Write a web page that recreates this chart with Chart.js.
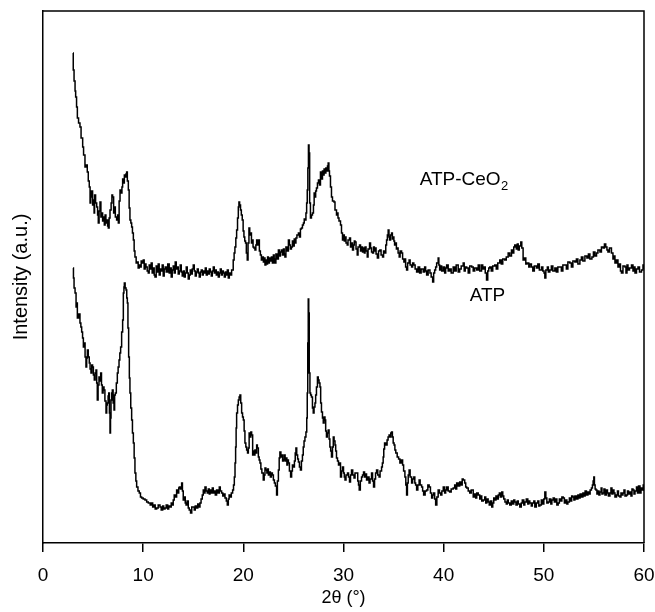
<!DOCTYPE html>
<html>
<head>
<meta charset="utf-8">
<title>XRD ATP / ATP-CeO2</title>
<script src="https://cdn.jsdelivr.net/npm/chart.js@4.4.1/dist/chart.umd.min.js"></script>
<style>
  html, body { margin: 0; padding: 0; background: #fff; }
  #wrap { width: 655px; height: 612px; position: relative; }
</style>
</head>
<body>
<div id="wrap"><canvas id="xrd"></canvas></div>
<script>
// [2theta, intensity (a.u.)]
const ceoPoints = [
  [3.00,490],[3.02,473],[3.1,462],[3.2,452],[3.26,446],[3.35,436],[3.43,425],[3.55,420],[3.69,416],[3.8,405],
  [3.96,396],[4.05,388],[4.19,376],[4.3,378],[4.42,371],[4.52,362],[4.62,356],[4.7,340],[4.76,346],[4.85,352],
  [4.95,338],[5.02,343],[5.1,330],[5.15,348],[5.25,340],[5.36,336],[5.45,328],[5.52,320],[5.6,332],[5.69,341],
  [5.78,326],[5.86,330],[5.95,322],[6.02,326],[6.12,318],[6.2,328],[6.28,320],[6.36,323],[6.45,317],[6.52,315],
  [6.6,325],[6.69,333],[6.8,340],[6.88,348],[6.95,346],[7.05,330],[7.12,336],[7.22,326],[7.35,323],[7.45,328],
  [7.52,320],[7.6,342],[7.69,353],[7.78,350],[7.88,356],[7.95,364],[8.02,360],[8.12,368],[8.19,366],[8.28,369],
  [8.35,371],[8.42,362],[8.52,353],[8.6,335],[8.68,323],[8.77,320],[8.85,316],[8.93,310],[9.02,303],[9.1,292],
  [9.18,286],[9.3,280],[9.4,281],[9.5,275],[9.6,278],[9.68,276],[9.8,282],[9.9,280],[10.01,283],[10.1,274],
  [10.2,279],[10.28,276],[10.4,272],[10.51,270],[10.6,278],[10.7,274],[10.8,280],[10.9,270],[11.0,275],[11.1,268],
  [11.18,266],[11.3,277],[11.4,271],[11.5,279],[11.6,268],[11.7,274],[11.8,272],[11.9,278],[12.0,267],[12.1,274],
  [12.2,276],[12.3,271],[12.45,279],[12.6,270],[12.7,275],[12.8,266],[12.9,273],[13.0,277],[13.1,270],[13.2,281],
  [13.3,274],[13.4,276],[13.5,269],[13.6,272],[13.7,278],[13.8,271],[13.9,267],[14.0,272],[14.1,266],[14.2,270],
  [14.3,276],[14.4,270],[14.5,264],[14.6,268],[14.7,273],[14.8,269],[14.9,274],[15.0,278],[15.1,272],[15.2,267],
  [15.3,271],[15.4,274],[15.5,270],[15.6,266],[15.7,271],[15.8,273],[15.9,268],[16.0,272],[16.1,270],[16.2,275],
  [16.3,268],[16.4,272],[16.5,269],[16.6,274],[16.7,271],[16.8,267],[16.9,272],[17.0,276],[17.1,270],[17.2,273],
  [17.3,268],[17.4,271],[17.5,266],[17.6,270],[17.7,274],[17.8,268],[17.9,272],[18.0,270],[18.1,266],[18.2,271],
  [18.3,268],[18.4,273],[18.5,265],[18.6,270],[18.7,268],[18.83,273],[18.99,283],[19.08,290],[19.16,296],[19.25,305],
  [19.33,313],[19.42,325],[19.5,336],[19.56,341],[19.63,338],[19.72,333],[19.8,328],[19.89,323],[19.98,312],[20.06,306],
  [20.14,302],[20.22,300],[20.3,290],[20.39,283],[20.47,300],[20.56,315],[20.64,308],[20.73,310],[20.81,300],[20.89,303],
  [20.97,296],[21.06,295],[21.16,293],[21.25,298],[21.33,303],[21.42,298],[21.5,303],[21.6,292],[21.7,288],[21.8,283],
  [21.9,286],[22.0,281],[22.08,285],[22.16,278],[22.25,283],[22.33,279],[22.42,286],[22.5,280],[22.6,285],[22.7,282],
  [22.8,286],[22.9,280],[23.0,288],[23.08,284],[23.15,280],[23.25,289],[23.35,284],[23.5,293],[23.6,287],[23.7,291],
  [23.8,293],[23.9,288],[24.0,294],[24.08,289],[24.15,286],[24.25,296],[24.35,292],[24.5,303],[24.6,298],[24.7,294],
  [24.8,296],[24.9,302],[25.0,297],[25.08,304],[25.15,300],[25.25,305],[25.35,308],[25.5,310],[25.6,306],[25.7,314],
  [25.8,315],[25.9,318],[26.0,320],[26.08,324],[26.15,323],[26.25,330],[26.32,340],[26.38,353],[26.44,375],[26.5,398],
  [26.56,390],[26.62,340],[26.7,325],[26.8,328],[26.9,330],[27.0,338],[27.07,350],[27.15,346],[27.22,352],[27.3,355],
  [27.4,360],[27.5,363],[27.6,358],[27.7,371],[27.8,364],[27.9,372],[27.98,368],[28.06,374],[28.15,370],[28.24,375],
  [28.32,372],[28.4,377],[28.47,380],[28.54,372],[28.6,367],[28.7,356],[28.8,346],[28.9,342],[29.05,341],[29.15,333],
  [29.3,328],[29.38,330],[29.45,325],[29.55,322],[29.7,318],[29.8,310],[29.9,303],[30.0,308],[30.08,302],[30.15,306],
  [30.25,300],[30.37,298],[30.45,303],[30.6,305],[30.7,296],[30.8,300],[30.9,293],[31.0,298],[31.08,302],[31.15,301],
  [31.25,294],[31.37,288],[31.45,296],[31.6,298],[31.7,292],[31.8,296],[31.9,291],[32.0,295],[32.08,290],[32.15,296],
  [32.25,292],[32.37,286],[32.45,294],[32.6,300],[32.7,295],[32.8,291],[32.9,290],[33.0,296],[33.08,292],[33.15,295],
  [33.25,289],[33.38,285],[33.5,292],[33.63,293],[33.75,288],[33.9,286],[34.0,292],[34.13,290],[34.22,298],[34.3,303],
  [34.38,308],[34.46,313],[34.54,306],[34.6,303],[34.7,308],[34.8,310],[34.88,304],[34.96,306],[35.03,302],[35.1,298],
  [35.2,300],[35.28,294],[35.36,295],[35.45,290],[35.56,286],[35.65,292],[35.8,290],[35.9,284],[36.03,281],[36.12,284],
  [36.2,276],[36.3,273],[36.4,280],[36.55,283],[36.65,278],[36.8,276],[36.9,280],[37.02,278],[37.15,274],[37.3,271],
  [37.45,276],[37.6,270],[37.75,274],[37.96,271],[38.1,276],[38.2,272],[38.3,268],[38.45,273],[38.63,270],[38.75,266],
  [38.9,261],[39.0,270],[39.1,273],[39.2,276],[39.3,280],[39.45,285],[39.52,278],[39.6,273],[39.7,277],[39.8,272],
  [39.96,276],[40.1,270],[40.2,275],[40.3,278],[40.45,272],[40.6,274],[40.75,270],[40.95,276],[41.1,272],[41.25,278],
  [41.45,271],[41.6,274],[41.75,277],[41.95,280],[42.05,272],[42.15,276],[42.3,275],[42.45,270],[42.6,277],[42.8,276],
  [42.95,272],[43.1,275],[43.3,273],[43.45,278],[43.6,272],[43.78,278],[43.9,274],[44.05,276],[44.15,270],[44.28,263],
  [44.4,272],[44.5,275],[44.6,276],[44.75,272],[44.9,277],[45.1,278],[45.25,274],[45.4,280],[45.6,283],[45.75,279],
  [45.9,284],[46.1,283],[46.25,286],[46.44,290],[46.6,287],[46.77,293],[46.9,290],[47.0,296],[47.1,298],[47.25,294],
  [47.35,299],[47.44,293],[47.55,297],[47.7,301],[47.8,295],[47.93,283],[48.05,285],[48.2,279],[48.33,280],[48.5,276],
  [48.6,279],[48.76,276],[48.9,272],[49.05,277],[49.26,275],[49.4,279],[49.55,273],[49.77,276],[49.9,272],[50.02,270],
  [50.1,265],[50.2,273],[50.35,276],[50.45,271],[50.6,273],[50.75,277],[50.9,272],[51.1,275],[51.25,271],[51.4,276],
  [51.6,276],[51.75,272],[51.9,278],[52.1,278],[52.25,274],[52.4,281],[52.6,280],[52.75,276],[52.9,282],[53.1,281],
  [53.25,284],[53.4,279],[53.6,283],[53.75,286],[53.9,282],[54.1,287],[54.3,285],[54.45,289],[54.6,284],[54.8,286],
  [54.95,291],[55.1,287],[55.26,290],[55.4,293],[55.6,291],[55.75,296],[55.92,295],[56.05,299],[56.18,296],[56.3,293],
  [56.4,291],[56.55,295],[56.75,290],[56.9,284],[57.0,287],[57.1,280],[57.25,283],[57.4,276],[57.55,279],[57.65,272],
  [57.75,270],[57.9,277],[58.1,276],[58.2,270],[58.3,278],[58.4,273],[58.55,275],[58.75,278],[58.9,272],[59.0,276],
  [59.1,270],[59.25,274],[59.4,276],[59.55,271],[59.75,273],[59.9,278],[60.0,274]
];

const atpPoints = [
  [3.00,275],[3.04,265],[3.1,255],[3.2,250],[3.3,236],[3.36,240],[3.43,225],[3.55,229],[3.69,220],[3.78,216],
  [3.86,211],[3.95,205],[4.03,196],[4.1,200],[4.2,186],[4.29,176],[4.36,185],[4.43,193],[4.52,186],[4.62,180],
  [4.7,174],[4.79,170],[4.87,178],[4.95,176],[5.03,168],[5.12,163],[5.2,170],[5.29,173],[5.36,160],[5.42,143],
  [5.5,158],[5.59,166],[5.68,162],[5.76,170],[5.84,158],[5.92,150],[6.0,156],[6.09,153],[6.18,142],[6.29,130],
  [6.36,138],[6.42,140],[6.5,147],[6.56,150],[6.63,130],[6.69,110],[6.74,125],[6.79,143],[6.86,150],[6.92,153],
  [7.0,140],[7.09,133],[7.15,148],[7.22,150],[7.32,160],[7.42,170],[7.5,176],[7.59,183],[7.67,190],[7.75,196],
  [7.85,211],[7.95,223],[8.02,250],[8.08,256],[8.12,260],[8.2,255],[8.29,253],[8.36,245],[8.42,240],[8.48,215],
  [8.55,186],[8.62,165],[8.68,150],[8.76,135],[8.85,123],[8.93,110],[9.02,100],[9.1,85],[9.18,70],[9.27,62],
  [9.35,56],[9.48,52],[9.61,50],[9.73,46],[9.85,45],[10.0,44],[10.18,43],[10.35,41],[10.51,40],[10.7,38],
  [10.85,40],[10.95,36],[11.1,38],[11.2,34],[11.35,35],[11.5,38],[11.68,36],[11.8,33],[11.95,37],[12.05,34],
  [12.18,35],[12.3,38],[12.45,34],[12.55,37],[12.68,36],[12.8,40],[12.9,38],[13.0,43],[13.1,48],[13.2,46],
  [13.34,53],[13.45,50],[13.55,55],[13.61,56],[13.72,54],[13.84,60],[13.92,52],[14.0,43],[14.1,46],[14.2,40],
  [14.28,38],[14.38,42],[14.5,35],[14.6,33],[14.73,30],[14.85,36],[15.0,36],[15.1,33],[15.2,37],[15.33,35],
  [15.45,39],[15.55,36],[15.67,40],[15.78,44],[15.9,48],[16.0,53],[16.1,50],[16.17,56],[16.28,52],[16.4,50],
  [16.5,54],[16.6,49],[16.67,53],[16.8,50],[16.9,55],[17.0,50],[17.1,52],[17.2,48],[17.33,53],[17.45,50],
  [17.6,56],[17.7,52],[17.83,50],[17.95,47],[18.05,49],[18.17,45],[18.3,42],[18.4,38],[18.5,44],[18.58,48],
  [18.66,46],[18.8,50],[18.93,53],[19.02,58],[19.1,66],[19.17,80],[19.23,96],[19.28,115],[19.33,130],[19.42,138],
  [19.5,143],[19.58,146],[19.66,148],[19.74,140],[19.83,130],[19.92,126],[20.0,123],[20.08,112],[20.16,100],[20.25,96],
  [20.33,93],[20.42,90],[20.5,95],[20.58,110],[20.66,106],[20.75,111],[20.83,108],[20.93,88],[21.0,92],[21.08,88],
  [21.16,93],[21.25,90],[21.33,98],[21.4,95],[21.5,86],[21.58,83],[21.66,80],[21.75,74],[21.85,70],[21.99,63],
  [22.08,68],[22.16,75],[22.25,73],[22.35,70],[22.42,74],[22.5,68],[22.6,71],[22.7,66],[22.8,70],[22.9,68],
  [23.0,63],[23.1,60],[23.2,57],[23.32,48],[23.4,62],[23.5,73],[23.58,85],[23.65,91],[23.75,86],[23.85,88],
  [23.92,82],[24.0,83],[24.08,88],[24.17,82],[24.25,85],[24.35,78],[24.42,83],[24.5,80],[24.6,72],[24.72,66],
  [24.82,72],[24.9,78],[25.0,76],[25.1,82],[25.18,90],[25.25,95],[25.33,88],[25.42,84],[25.5,81],[25.6,76],
  [25.7,73],[25.8,82],[25.9,88],[25.98,96],[26.06,102],[26.15,106],[26.25,111],[26.33,125],[26.38,150],[26.43,200],
  [26.48,244],[26.53,230],[26.58,170],[26.65,150],[26.72,148],[26.8,146],[26.9,135],[26.98,130],[27.06,136],[27.15,140],
  [27.22,148],[27.3,156],[27.4,166],[27.48,163],[27.56,160],[27.65,156],[27.72,140],[27.8,131],[27.9,125],[27.98,120],
  [28.06,126],[28.15,123],[28.22,112],[28.3,106],[28.38,110],[28.48,113],[28.56,104],[28.64,96],[28.72,92],[28.8,86],
  [28.9,96],[28.98,106],[29.06,102],[29.15,98],[29.22,92],[29.3,85],[29.4,82],[29.5,78],[29.6,80],[29.7,66],
  [29.8,72],[29.9,76],[30.0,70],[30.08,66],[30.15,63],[30.25,68],[30.4,70],[30.5,66],[30.6,61],[30.7,68],
  [30.8,73],[30.92,68],[31.05,65],[31.15,70],[31.3,70],[31.42,62],[31.5,58],[31.57,53],[31.68,62],[31.8,66],
  [31.9,68],[32.0,71],[32.1,66],[32.2,69],[32.3,63],[32.42,66],[32.55,60],[32.65,64],[32.8,70],[32.9,62],
  [33.0,56],[33.1,64],[33.2,70],[33.3,73],[33.42,68],[33.55,66],[33.65,72],[33.8,76],[33.88,80],[33.96,86],
  [34.02,94],[34.1,100],[34.2,98],[34.35,103],[34.45,106],[34.55,108],[34.65,106],[34.72,110],[34.8,111],[34.88,106],
  [34.96,100],[35.05,98],[35.13,93],[35.22,90],[35.36,86],[35.5,84],[35.63,80],[35.75,83],[35.9,78],[36.0,72],
  [36.13,66],[36.22,58],[36.3,48],[36.38,60],[36.46,68],[36.55,73],[36.65,66],[36.8,60],[36.9,64],[37.02,66],
  [37.12,60],[37.2,58],[37.3,53],[37.42,58],[37.55,63],[37.65,58],[37.8,56],[37.9,52],[38.0,48],[38.15,52],
  [38.3,53],[38.42,58],[38.55,56],[38.68,50],[38.8,45],[38.9,48],[39.0,50],[39.1,44],[39.2,38],[39.32,46],
  [39.45,53],[39.58,50],[39.7,48],[39.82,52],[39.96,56],[40.1,50],[40.2,53],[40.3,56],[40.45,52],[40.6,51],
  [40.75,54],[40.95,55],[41.1,58],[41.2,54],[41.3,60],[41.45,57],[41.6,61],[41.75,58],[41.85,64],[41.95,63],
  [42.1,60],[42.2,56],[42.3,55],[42.45,52],[42.6,50],[42.75,53],[42.95,46],[43.1,49],[43.2,45],[43.3,50],
  [43.45,48],[43.6,44],[43.7,47],[43.8,42],[43.95,43],[44.1,46],[44.2,40],[44.3,44],[44.44,41],[44.55,38],
  [44.65,42],[44.8,36],[44.9,40],[45.0,45],[45.1,43],[45.22,47],[45.35,44],[45.45,48],[45.56,50],[45.65,46],
  [45.8,51],[45.9,47],[46.0,44],[46.12,41],[46.25,39],[46.35,43],[46.45,40],[46.6,38],[46.75,42],[46.85,39],
  [47.0,43],[47.1,41],[47.22,38],[47.35,42],[47.45,39],[47.6,36],[47.75,40],[47.85,43],[48.0,38],[48.1,41],
  [48.25,44],[48.4,39],[48.5,42],[48.6,40],[48.75,37],[48.85,40],[49.0,42],[49.1,36],[49.25,40],[49.4,42],
  [49.5,37],[49.6,38],[49.75,43],[49.85,39],[50.0,44],[50.1,51],[50.2,45],[50.3,40],[50.43,41],[50.55,44],
  [50.7,39],[50.8,43],[50.93,45],[51.05,41],[51.15,44],[51.3,38],[51.43,40],[51.55,44],[51.7,42],[51.8,46],
  [51.93,45],[52.05,40],[52.15,43],[52.3,39],[52.4,41],[52.55,45],[52.65,42],[52.78,47],[52.9,46],[53.0,43],
  [53.1,47],[53.25,44],[53.4,48],[53.5,45],[53.62,49],[53.75,46],[53.9,50],[54.0,47],[54.12,52],[54.25,48],
  [54.4,51],[54.5,49],[54.62,53],[54.75,55],[54.85,58],[54.92,62],[54.99,66],[55.05,58],[55.12,54],[55.2,53],
  [55.3,49],[55.4,52],[55.5,48],[55.6,51],[55.72,55],[55.8,49],[55.9,50],[56.0,54],[56.1,48],[56.25,53],
  [56.35,50],[56.45,47],[56.6,50],[56.7,55],[56.8,49],[56.9,53],[57.0,50],[57.1,46],[57.25,48],[57.35,52],
  [57.45,47],[57.6,46],[57.7,50],[57.8,48],[57.9,50],[58.0,53],[58.1,47],[58.25,48],[58.35,52],[58.45,49],
  [58.6,51],[58.7,47],[58.8,54],[58.9,53],[59.0,49],[59.1,52],[59.25,56],[59.35,50],[59.45,57],[59.6,50],
  [59.7,55],[59.85,53],[59.92,58],[60.0,52]
];

const xTicks = [0, 10, 20, 30, 40, 50, 60];
const xTitle = '2\u03b8 (\u00b0)';
const yTitle = 'Intensity (a.u.)';
// curve labels, placed in data coordinates [2theta, intensity]
const curveLabels = [
  { text: 'ATP-CeO', sub: '2', at: [37.6, 363] },
  { text: 'ATP', sub: '', at: [42.6, 247] }
];

Chart.defaults.font.family = "'Liberation Sans', Arial, sans-serif";
Chart.defaults.color = '#000';

function toXY(points) {
  return points.map(p => ({ x: p[0], y: p[1] }));
}

// box frame: top and right edges
const frame = {
  id: 'frame',
  afterDraw(chart) {
    const a = chart.chartArea, c = chart.ctx;
    c.save();
    c.strokeStyle = '#000';
    c.lineWidth = 1.5;
    c.beginPath();
    c.moveTo(a.left, a.top);
    c.lineTo(a.right, a.top);
    c.lineTo(a.right, a.bottom);
    c.stroke();
    c.restore();
  }
};

const curveText = {
  id: 'curveText',
  afterDatasetsDraw(chart) {
    const c = chart.ctx, xs = chart.scales.x, ys = chart.scales.y;
    c.save();
    c.fillStyle = '#000';
    c.textBaseline = 'middle';
    curveLabels.forEach(l => {
      const px = xs.getPixelForValue(l.at[0]);
      const py = ys.getPixelForValue(l.at[1]);
      c.font = "19px 'Liberation Sans', Arial, sans-serif";
      c.fillText(l.text, px, py);
      if (l.sub) {
        const w = c.measureText(l.text).width;
        c.font = "13px 'Liberation Sans', Arial, sans-serif";
        c.fillText(l.sub, px + w + 0.5, py + 6);
      }
    });
    c.restore();
  }
};

new Chart(document.getElementById('xrd'), {
  type: 'line',
  data: {
    datasets: [
      { label: 'ATP-CeO2', data: toXY(ceoPoints), borderColor: '#000', borderWidth: 1.5, pointRadius: 0, stepped: true, fill: false },
      { label: 'ATP', data: toXY(atpPoints), borderColor: '#000', borderWidth: 1.5, pointRadius: 0, stepped: true, fill: false }
    ]
  },
  options: {
    responsive: true,
    maintainAspectRatio: false,
    animation: false,
    layout: { padding: { top: 11, right: 11, left: 0, bottom: 0 } },
    plugins: { legend: { display: false }, tooltip: { enabled: false } },
    scales: {
      x: {
        type: 'linear',
        min: 0, max: 60,
        afterBuildTicks: s => { s.ticks = xTicks.map(v => ({ value: v })); },
        afterFit: s => { s.height = 69; s.paddingLeft = 0; s.paddingRight = 0; },
        ticks: { font: { size: 19 }, color: '#000', padding: 12, maxRotation: 0 },
        grid: { display: true, drawOnChartArea: false, drawTicks: true, tickLength: 9, color: '#000', lineWidth: 1.5 },
        border: { display: true, color: '#000', width: 1.5 },
        title: { display: true, text: xTitle, font: { size: 18 }, color: '#000', padding: { top: 0, bottom: 3 } }
      },
      y: {
        type: 'linear',
        min: 0, max: 532,
        afterFit: s => { s.width = 43; },
        ticks: { display: false },
        grid: { display: false },
        border: { display: true, color: '#000', width: 1.5 },
        title: { display: true, text: yTitle, font: { size: 20 }, color: '#000', padding: { top: 9, bottom: 0 } }
      }
    }
  },
  plugins: [frame, curveText]
});
</script>
</body>
</html>
